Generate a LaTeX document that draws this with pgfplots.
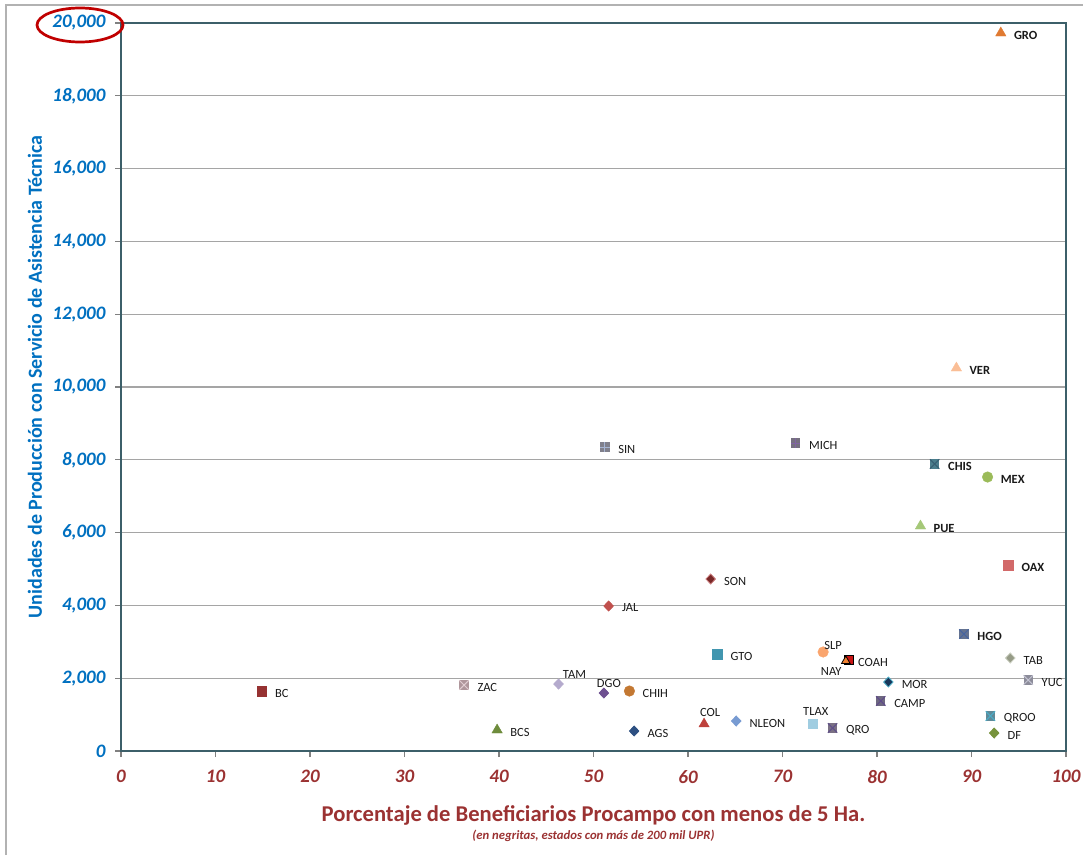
\documentclass[border=0pt]{standalone}
\usepackage{fontspec}
\setmainfont{Carlito}
\usepackage{pgfplots}
\pgfplotsset{compat=1.18}

% colours read off the chart
\definecolor{axisline}{RGB}{60,95,105}
\definecolor{gridc}{RGB}{165,165,165}
\definecolor{yblue}{RGB}{0,112,192}
\definecolor{xred}{RGB}{155,50,50}
\definecolor{ring}{RGB}{192,0,0}

\definecolor{cGRO}{RGB}{224,122,50}
\definecolor{cVER}{RGB}{250,190,150}
\definecolor{cSIN}{RGB}{128,128,140}
\definecolor{cSINb}{RGB}{165,180,210}
\definecolor{cMICH}{RGB}{118,112,128}
\definecolor{cMICHb}{RGB}{128,100,162}
\definecolor{cCHIS}{RGB}{75,125,140}
\definecolor{cCHISb}{RGB}{55,95,115}
\definecolor{cMEX}{RGB}{155,187,89}
\definecolor{cPUE}{RGB}{165,200,120}
\definecolor{cSON}{RGB}{120,40,40}
\definecolor{cSONb}{RGB}{200,120,120}
\definecolor{cOAX}{RGB}{210,105,105}
\definecolor{cJAL}{RGB}{192,80,77}
\definecolor{cHGO}{RGB}{100,115,145}
\definecolor{cHGOb}{RGB}{70,100,160}
\definecolor{cGTO}{RGB}{65,150,175}
\definecolor{cSLP}{RGB}{250,165,110}
\definecolor{cCOAH}{RGB}{200,20,20}
\definecolor{cNAY}{RGB}{240,130,50}
\definecolor{cTAB}{RGB}{150,155,135}
\definecolor{cTABb}{RGB}{200,205,190}
\definecolor{cYUC}{RGB}{140,140,154}
\definecolor{cYUCb}{RGB}{195,195,210}
\definecolor{cMOR}{RGB}{25,55,90}
\definecolor{cMORb}{RGB}{75,172,198}
\definecolor{cCAMP}{RGB}{110,104,128}
\definecolor{cCAMPb}{RGB}{95,75,139}
\definecolor{cQROO}{RGB}{95,138,153}
\definecolor{cQROOb}{RGB}{75,172,198}
\definecolor{cDF}{RGB}{119,147,60}
\definecolor{cQRO}{RGB}{122,112,132}
\definecolor{cQROb}{RGB}{96,80,138}
\definecolor{cTLAX}{RGB}{160,205,225}
\definecolor{cNLEON}{RGB}{120,155,210}
\definecolor{cCOL}{RGB}{190,65,60}
\definecolor{cAGS}{RGB}{45,80,130}
\definecolor{cCHIH}{RGB}{195,120,50}
\definecolor{cDGO}{RGB}{110,80,145}
\definecolor{cTAM}{RGB}{180,170,205}
\definecolor{cZAC}{RGB}{175,150,155}
\definecolor{cZACb}{RGB}{225,205,210}
\definecolor{cBCS}{RGB}{110,140,60}
\definecolor{cBC}{RGB}{150,50,50}

% square with a cross / plus inside (Excel style markers)
\pgfdeclareplotmark{sqx}{%
  \pgfpathrectangle{\pgfqpoint{-\pgfplotmarksize}{-\pgfplotmarksize}}{\pgfqpoint{2\pgfplotmarksize}{2\pgfplotmarksize}}%
  \pgfusepathqfill
  \pgfpathmoveto{\pgfqpoint{-\pgfplotmarksize}{-\pgfplotmarksize}}%
  \pgfpathlineto{\pgfqpoint{\pgfplotmarksize}{\pgfplotmarksize}}%
  \pgfpathmoveto{\pgfqpoint{-\pgfplotmarksize}{\pgfplotmarksize}}%
  \pgfpathlineto{\pgfqpoint{\pgfplotmarksize}{-\pgfplotmarksize}}%
  \pgfusepathqstroke
}
\pgfdeclareplotmark{sqp}{%
  \pgfpathrectangle{\pgfqpoint{-\pgfplotmarksize}{-\pgfplotmarksize}}{\pgfqpoint{2\pgfplotmarksize}{2\pgfplotmarksize}}%
  \pgfusepathqfill
  \pgfpathmoveto{\pgfqpoint{-\pgfplotmarksize}{0pt}}%
  \pgfpathlineto{\pgfqpoint{\pgfplotmarksize}{0pt}}%
  \pgfpathmoveto{\pgfqpoint{0pt}{\pgfplotmarksize}}%
  \pgfpathlineto{\pgfqpoint{0pt}{-\pgfplotmarksize}}%
  \pgfusepathqstroke
}
% nearly square diamond
\pgfdeclareplotmark{dia}{%
  \pgfpathmoveto{\pgfqpoint{0pt}{\pgfplotmarksize}}%
  \pgfpathlineto{\pgfqpoint{0.95\pgfplotmarksize}{0pt}}%
  \pgfpathlineto{\pgfqpoint{0pt}{-\pgfplotmarksize}}%
  \pgfpathlineto{\pgfqpoint{-0.95\pgfplotmarksize}{0pt}}%
  \pgfpathclose
  \pgfusepathqfillstroke
}

\pgfplotsset{
  sq/.style={mark=square*, mark size=4.7pt, mark options={draw=#1, fill=#1}},
  sx/.style 2 args={mark=sqx, mark size=4.7pt, mark options={fill=#1, draw=#2, line width=1pt}},
  sp/.style 2 args={mark=sqp, mark size=4.7pt, mark options={fill=#1, draw=#2, line width=1pt}},
  di/.style 2 args={mark=dia, mark size=5pt, mark options={fill=#1, draw=#2, line width=0.8pt}},
  tri/.style={mark=triangle*, mark size=6pt, mark options={draw=#1, fill=#1}},
  ci/.style={mark=*, mark size=5.3pt, mark options={draw=#1, fill=#1}},
}

% one state: marker style, x, y, label, label anchor, xshift, yshift
\newcommand{\st}[7]{%
  \addplot[only marks, #1, nodes near coords={#4},
    every node near coord/.style={anchor=#5, xshift=#6, yshift=#7,
      inner sep=1pt, text=black!90, font=\fontsize{12.5}{14}\selectfont}]
    coordinates {(#2,#3)};
}

\begin{document}
\begin{tikzpicture}
\useasboundingbox (0,0) rectangle (1083pt,855pt);
\draw[gray!60, line width=2pt] (6pt,0) -- (6pt,850pt) -- (1083pt,850pt);

\begin{axis}[
    at={(121pt,104pt)}, anchor=south west,
    scale only axis,
    width=945pt, height=728pt,
    xmin=0, xmax=100,
    ymin=0, ymax=20000,
    xtick distance=10,
    ytick distance=2000,
    scaled y ticks=false,
    ymajorgrids=true,
    major grid style={gridc, line width=1.3pt},
    axis line style={axisline, line width=1.5pt},
    tick style={gray, line width=1.2pt},
    major tick length=6pt,
    tick align=outside,
    tick pos=left,
    /pgf/number format/assume math mode=true,
    /pgf/number format/1000 sep={,},
    yticklabel style={font=\fontsize{19}{21}\selectfont\bfseries\itshape, text=yblue, xshift=-6pt},
    xticklabel style={font=\fontsize{19}{21}\selectfont\bfseries\itshape, text=xred, yshift=-10pt},
    ylabel={Unidades de Producción con Servicio de Asistencia Técnica},
    ylabel style={at={(axis description cs:-0.091,0.514)}, anchor=center,
      font=\fontsize{20}{24}\selectfont\bfseries, text=yblue},
    xlabel={Porcentaje de Beneficiarios Procampo con menos de 5 Ha.},
    xlabel style={at={(axis description cs:0.5,-0.088)}, anchor=center,
      font=\fontsize{22.6}{26}\selectfont\bfseries, text=xred},
    clip=false,
]

\st{tri=cGRO}{93.1}{19725}{\textbf{GRO}}{west}{12pt}{-2pt}
\st{tri=cVER}{88.4}{10521}{\textbf{VER}}{west}{12pt}{-2pt}
\st{sp={cSIN}{cSINb}}{51.2}{8351}{SIN}{west}{12pt}{-2pt}
\st{sp={cMICH}{cMICHb}}{71.4}{8461}{MICH}{west}{12pt}{-2pt}
\st{sx={cCHIS}{cCHISb}}{86.1}{7884}{\textbf{CHIS}}{west}{12pt}{-2pt}
\st{ci=cMEX}{91.7}{7527}{\textbf{MEX}}{west}{12pt}{-2pt}
\st{tri=cPUE}{84.6}{6181}{\textbf{PUE}}{west}{12pt}{-2pt}
\st{di={cSON}{cSONb}}{62.4}{4725}{SON}{west}{12pt}{-2pt}
\st{sq=cOAX}{93.9}{5109}{\textbf{OAX}}{west}{12pt}{-2pt}
\st{di={cJAL}{cJAL}}{51.6}{3983}{JAL}{west}{12pt}{-2pt}
\st{sx={cHGO}{cHGOb}}{89.2}{3214}{\textbf{HGO}}{west}{12pt}{-2pt}
\st{sq=cGTO}{63.1}{2665}{GTO}{west}{12pt}{-2pt}
\st{ci=cSLP}{74.3}{2720}{SLP}{south west}{0pt}{1pt}
\st{mark=square*, mark size=4.5pt, mark options={fill=cCOAH, draw=black, line width=1pt}}{77.0}{2500}{COAH}{west}{8pt}{-2pt}
\st{mark=triangle*, mark size=5pt, mark options={fill=cNAY, draw=black, line width=0.8pt}}{76.7}{2472}{NAY}{north east}{-3pt}{-5pt}
\st{di={cTAB}{cTABb}}{94.1}{2555}{TAB}{west}{12pt}{-2pt}
\st{sx={cYUC}{cYUCb}}{96.0}{1950}{YUC}{west}{12pt}{-2pt}
\st{di={cMOR}{cMORb}}{81.2}{1895}{MOR}{west}{12pt}{-2pt}
\st{sx={cCAMP}{cCAMPb}}{80.4}{1374}{CAMP}{west}{12pt}{-2pt}
\st{sx={cQROO}{cQROOb}}{92.0}{961}{QROO}{west}{12pt}{-2pt}
\st{di={cDF}{cDF}}{92.4}{494}{DF}{west}{12pt}{-2pt}
\st{sx={cQRO}{cQROb}}{75.3}{632}{QRO}{west}{12pt}{-2pt}
\st{sq=cTLAX}{73.2}{742}{TLAX}{south}{3pt}{7pt}
\st{di={cNLEON}{cNLEON}}{65.1}{824}{NLEON}{west}{12pt}{-2pt}
\st{tri=cCOL}{61.7}{742}{COL}{south}{6pt}{6pt}
\st{di={cAGS}{cAGS}}{54.3}{549}{AGS}{west}{12pt}{-2pt}
\st{ci=cCHIH}{53.8}{1648}{CHIH}{west}{12pt}{-2pt}
\st{di={cDGO}{cDGO}}{51.1}{1593}{DGO}{south}{5pt}{4pt}
\st{di={cTAM}{cTAM}}{46.3}{1840}{TAM}{south west}{3pt}{4pt}
\st{sx={cZAC}{cZACb}}{36.3}{1813}{ZAC}{west}{12pt}{-2pt}
\st{tri=cBCS}{39.8}{577}{BCS}{west}{12pt}{-2pt}
\st{sq=cBC}{14.9}{1648}{BC}{west}{12pt}{-2pt}

\node[text=xred, font=\fontsize{12.7}{15}\selectfont\bfseries\itshape]
  at (axis description cs:0.5,-0.117) {(en negritas, estados con más de 200 mil UPR)};
\end{axis}

\draw[ring, line width=2.7pt] (80pt,830pt) ellipse (43pt and 17pt);
\end{tikzpicture}
\end{document}
